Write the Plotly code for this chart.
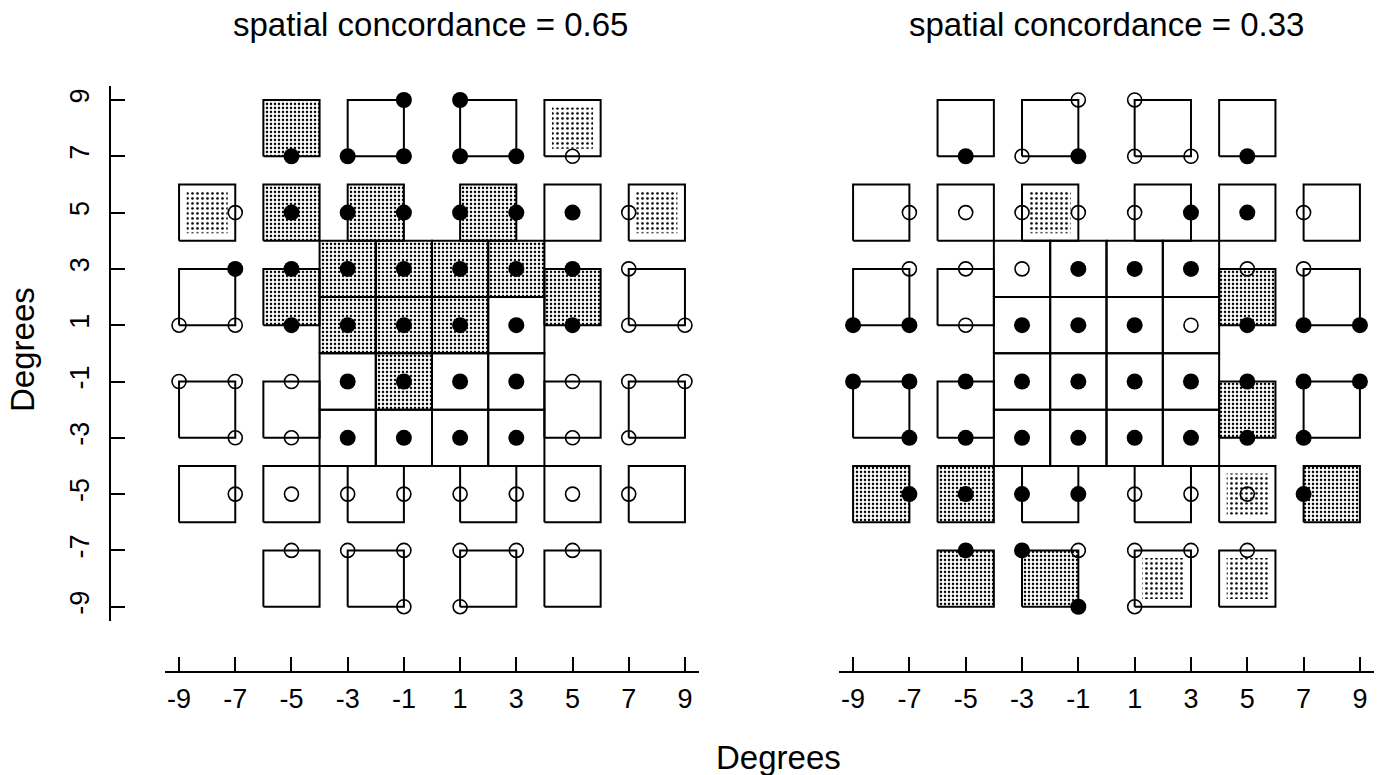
import plotly.graph_objects as go

W, H = 1385, 775

# ---------------- data ----------------
tick_vals = [-9, -7, -5, -3, -1, 1, 3, 5, 7, 9]
tick_text = ["-9", "-7", "-5", "-3", "-1", "1", "3", "5", "7", "9"]

titles = ["spatial concordance = 0.65", "spatial concordance = 0.33"]

# sector squares (lower-left corners, 2 x 2 degrees)
square_x0 = [-6, -3, 1, 4,
             -9, -6, -3, 1, 4, 7,
             -9, -6, 4, 7,
             -9, -6, 4, 7,
             -9, -6, -3, 1, 4, 7,
             -6, -3, 1, 4,
             -4, -2, 0, 2,
             -4, -2, 0, 2,
             -4, -2, 0, 2,
             -4, -2, 0, 2]
square_y0 = [7, 7, 7, 7,
             4, 4, 4, 4, 4, 4,
             1, 1, 1, 1,
             -3, -3, -3, -3,
             -6, -6, -6, -6, -6, -6,
             -9, -9, -9, -9,
             2, 2, 2, 2,
             0, 0, 0, 0,
             -2, -2, -2, -2,
             -4, -4, -4, -4]

# shading: D = dense, L = light (inset), N = none
shade_left = ["D", "N", "N", "L",
              "L", "D", "D", "D", "N", "L",
              "N", "D", "D", "N",
              "N", "N", "N", "N",
              "N", "N", "N", "N", "N", "N",
              "N", "N", "N", "N",
              "D", "D", "D", "D",
              "D", "D", "D", "N",
              "N", "D", "N", "N",
              "N", "N", "N", "N"]
shade_right = ["N", "N", "N", "N",
               "N", "N", "L", "N", "N", "N",
               "N", "N", "D", "N",
               "N", "N", "D", "N",
               "D", "D", "N", "N", "L", "D",
               "D", "D", "L", "L",
               "N", "N", "N", "N",
               "N", "N", "N", "N",
               "N", "N", "N", "N",
               "N", "N", "N", "N"]

# visual field test locations (10-2 grid)
pt_x = [-1, 1,
        -5, -3, -1, 1, 3, 5,
        -7, -5, -3, -1, 1, 3, 5, 7,
        -7, -5, -3, -1, 1, 3, 5, 7,
        -9, -7, -5, -3, -1, 1, 3, 5, 7, 9,
        -9, -7, -5, -3, -1, 1, 3, 5, 7, 9,
        -7, -5, -3, -1, 1, 3, 5, 7,
        -7, -5, -3, -1, 1, 3, 5, 7,
        -5, -3, -1, 1, 3, 5,
        -1, 1]
pt_y = [9, 9,
        7, 7, 7, 7, 7, 7,
        5, 5, 5, 5, 5, 5, 5, 5,
        3, 3, 3, 3, 3, 3, 3, 3,
        1, 1, 1, 1, 1, 1, 1, 1, 1, 1,
        -1, -1, -1, -1, -1, -1, -1, -1, -1, -1,
        -3, -3, -3, -3, -3, -3, -3, -3,
        -5, -5, -5, -5, -5, -5, -5, -5,
        -7, -7, -7, -7, -7, -7,
        -9, -9]
# 1 = abnormal (filled), 0 = normal (open)
status_left = [1, 1,
               1, 1, 1, 1, 1, 0,
               0, 1, 1, 1, 1, 1, 1, 0,
               1, 1, 1, 1, 1, 1, 1, 0,
               0, 0, 1, 1, 1, 1, 1, 1, 0, 0,
               0, 0, 0, 1, 1, 1, 1, 0, 0, 0,
               0, 0, 1, 1, 1, 1, 0, 0,
               0, 0, 0, 0, 0, 0, 0, 0,
               0, 0, 0, 0, 0, 0,
               0, 0]
status_right = [0, 0,
                1, 0, 1, 0, 0, 1,
                0, 0, 0, 0, 0, 1, 1, 0,
                0, 0, 0, 1, 1, 1, 0, 0,
                1, 1, 0, 1, 1, 1, 0, 1, 1, 1,
                1, 1, 1, 1, 1, 1, 1, 1, 1, 1,
                1, 1, 1, 1, 1, 1, 1, 1,
                1, 1, 1, 1, 0, 0, 0, 1,
                1, 1, 0, 0, 0, 0,
                1, 0]

# ---------------- styling ----------------
FONT = "Liberation Sans, Arial, Helvetica, sans-serif"
SIZE = 2.0
INSET = 0.27
LW = 2.0

fig = go.Figure()


def rect(x0, y0, x1, y1):
    return [x0, x1, x1, x0, x0], [y0, y0, y1, y1, y0]


def add_panel(shades, status, xa, ya):
    # pattern fills
    for x0, y0, s in zip(square_x0, square_y0, shades):
        if s == "N":
            continue
        if s == "D":
            xs, ys = rect(x0, y0, x0 + SIZE, y0 + SIZE)
            pat = dict(shape=".", size=4, solidity=0.3, fgcolor="black",
                       bgcolor="white", fillmode="replace")
        else:
            xs, ys = rect(x0 + INSET, y0 + INSET, x0 + SIZE - INSET, y0 + SIZE - INSET)
            pat = dict(shape=".", size=5, solidity=0.22, fgcolor="black",
                       bgcolor="white", fillmode="replace")
        fig.add_trace(go.Scatter(x=xs, y=ys, mode="lines", fill="toself",
                                 fillpattern=pat, line=dict(width=0, color="rgba(0,0,0,0)"),
                                 hoverinfo="skip", showlegend=False, xaxis=xa, yaxis=ya))
    # borders
    bx, by = [], []
    for x0, y0 in zip(square_x0, square_y0):
        xs, ys = rect(x0, y0, x0 + SIZE, y0 + SIZE)
        bx += xs + [None]
        by += ys + [None]
    fig.add_trace(go.Scatter(x=bx, y=by, mode="lines", line=dict(color="black", width=LW),
                             hoverinfo="skip", showlegend=False, xaxis=xa, yaxis=ya))
    # points
    fx = [x for x, s in zip(pt_x, status) if s == 1]
    fy = [y for y, s in zip(pt_y, status) if s == 1]
    ox = [x for x, s in zip(pt_x, status) if s == 0]
    oy = [y for y, s in zip(pt_y, status) if s == 0]
    fig.add_trace(go.Scatter(x=ox, y=oy, mode="markers",
                             marker=dict(symbol="circle-open", size=14, color="black",
                                         line=dict(width=1.6, color="black")),
                             showlegend=False, xaxis=xa, yaxis=ya))
    fig.add_trace(go.Scatter(x=fx, y=fy, mode="markers",
                             marker=dict(symbol="circle", size=16, color="black",
                                         line=dict(width=0)),
                             showlegend=False, xaxis=xa, yaxis=ya))


add_panel(shade_left, status_left, "x", "y")
add_panel(shade_right, status_right, "x2", "y2")

ydom = [1 - 620.8 / H, 1 - 85.9 / H]
xline_pos = 1 - 672 / H
tickfont = dict(family=FONT, size=27, color="black")

common_x = dict(range=[-9.5, 9.5], tickmode="array", tickvals=tick_vals, ticktext=tick_text,
                ticks="inside", ticklen=14, tickwidth=1.5, tickcolor="black",
                showline=True, linewidth=1.5, linecolor="black", showgrid=False,
                zeroline=False, anchor="free", position=xline_pos, tickfont=tickfont,
                ticklabelstandoff=3, fixedrange=True)

fig.update_layout(
    width=W, height=H, margin=dict(l=0, r=0, t=0, b=0),
    paper_bgcolor="white", plot_bgcolor="white",
    xaxis=dict(domain=[165 / W, 699 / W], **common_x),
    xaxis2=dict(domain=[839 / W, 1374 / W], **common_x),
    yaxis=dict(domain=ydom, range=[-9.5, 9.5], tickmode="array", tickvals=tick_vals,
               ticktext=tick_text, ticks="inside", ticklen=14, tickwidth=1.5,
               tickcolor="black", showline=True, linewidth=1.5, linecolor="black",
               showgrid=False, zeroline=False, anchor="free", position=110 / W,
               tickangle=-90, tickfont=tickfont, ticklabelstandoff=9, fixedrange=True),
    yaxis2=dict(domain=ydom, range=[-9.5, 9.5], visible=False, anchor="x2", fixedrange=True),
    showlegend=False,
)

annots = [
    dict(text=titles[0], x=430 / W, y=1 - 24 / H, font=dict(family=FONT, size=33, color="black")),
    dict(text=titles[1], x=1106 / W, y=1 - 24 / H, font=dict(family=FONT, size=33, color="black")),
    dict(text="Degrees", x=778 / W, y=1 - 757 / H, font=dict(family=FONT, size=33, color="black")),
    dict(text="Degrees", x=22 / W, y=1 - 350 / H, textangle=-90,
         font=dict(family=FONT, size=33, color="black")),
]
for a in annots:
    fig.add_annotation(xref="paper", yref="paper", showarrow=False,
                       xanchor="center", yanchor="middle", **a)

fig.write_html("out.html")
